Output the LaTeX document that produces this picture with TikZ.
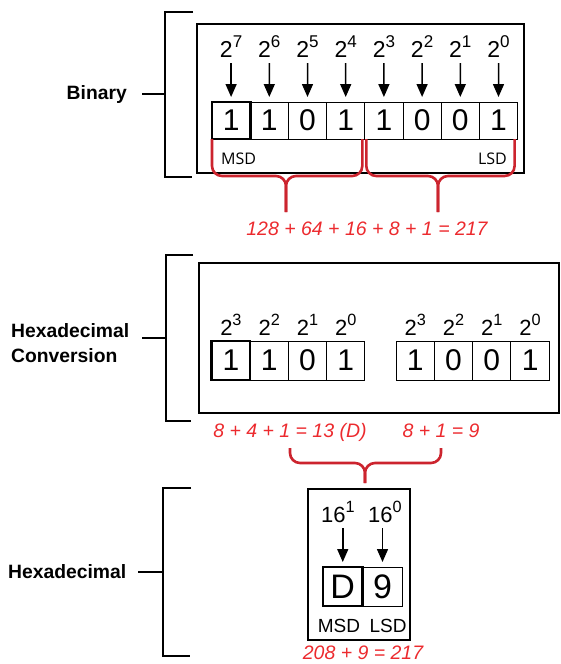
\documentclass[tikz,border=0pt]{standalone}
\usepackage{fontspec}
\setmainfont{Liberation Sans}
\newfontfamily\msdfont{Open Sans}
\usetikzlibrary{arrows.meta,positioning}
\definecolor{bracered}{RGB}{204,36,46}
\definecolor{sumred}{RGB}{236,42,46}
\newcommand{\pwr}[2]{#1\raisebox{.42em}{\scalebox{.74}{#2}}}

\begin{document}
\begin{tikzpicture}[
    x=1pt, y=-1pt,
    frame/.style={draw, line width=1.3pt},
    cell/.style={draw, line width=1pt, minimum width=38.2pt, minimum height=37pt, inner sep=0pt, outer sep=0pt, font=\fontsize{30}{30}\selectfont},
    msd/.style={cell, line width=2.8pt},
    expo/.style={anchor=base, inner sep=0pt, font=\fontsize{23}{23}\selectfont},
    tag/.style={inner sep=0pt, align=left, font=\fontsize{19.3}{25}\selectfont\bfseries},
    bracket/.style={draw, line width=2.2pt},
    brace/.style={draw=bracered, line width=2.6pt, rounded corners=10pt},
    sum/.style={anchor=base, inner sep=0pt, text=sumred, font=\fontsize{19.5}{19.5}\selectfont\itshape},
    line/.style={-{Triangle[width=11pt,length=13pt]}, line width=1.5pt, shorten <=6pt, shorten >=5pt}
]
\useasboundingbox (0,0) rectangle (560,664);

% Binary
\node[tag, anchor=base east] (binlbl) at (127,99.5) {Binary};
\coordinate (bintick) at (142,94);
\coordinate (binmid) at (165,94);
\draw[bracket] (193,12) -| (binmid) |- (192,177);
\draw[bracket] (bintick) -- (binmid);
\draw[frame] (197,24) rectangle (524,173);

\node[msd] (b7) at (231.1,120.5) {1};
\node[cell, right=0pt of b7] (b6) {1};
\node[cell, right=0pt of b6] (b5) {0};
\node[cell, right=0pt of b5] (b4) {1};
\node[cell, right=0pt of b4] (b3) {1};
\node[cell, right=0pt of b3] (b2) {0};
\node[cell, right=0pt of b2] (b1) {0};
\node[cell, right=0pt of b1] (b0) {1};

\node[expo] (e7) at (231.1,57) {\pwr{2}{7}};
\node[expo] (e6) at (269.3,57) {\pwr{2}{6}};
\node[expo] (e5) at (307.5,57) {\pwr{2}{5}};
\node[expo] (e4) at (345.7,57) {\pwr{2}{4}};
\node[expo] (e3) at (383.9,57) {\pwr{2}{3}};
\node[expo] (e2) at (422.1,57) {\pwr{2}{2}};
\node[expo] (e1) at (460.3,57) {\pwr{2}{1}};
\node[expo] (e0) at (498.5,57) {\pwr{2}{0}};

\draw[line] (e7.south) -- (b7.north);
\draw[line] (e6.south) -- (b6.north);
\draw[line] (e5.south) -- (b5.north);
\draw[line] (e4.south) -- (b4.north);
\draw[line] (e3.south) -- (b3.north);
\draw[line] (e2.south) -- (b2.north);
\draw[line] (e1.south) -- (b1.north);
\draw[line] (e0.south) -- (b0.north);

\node[anchor=base west, inner sep=0pt, font=\msdfont\fontsize{16}{16}\selectfont] (binmsd) at (221,164) {MSD};
\node[anchor=base east, inner sep=0pt, font=\msdfont\fontsize{16}{16}\selectfont] (binlsd) at (507,164) {LSD};

\coordinate (cuspL) at (286,176);
\coordinate (tipL) at (286,212);
\coordinate (cuspR) at (438,176);
\coordinate (tipR) at (438,212);
\draw[brace] (b7.south west) |- (cuspL) -- (tipL);
\draw[brace] ([xshift=-2.5pt]b4.south east) |- (cuspL) -- (tipL);
\draw[brace] ([xshift=1.5pt]b3.south west) |- (cuspR) -- (tipR);
\draw[brace] ([xshift=-3pt]b0.south east) |- (cuspR) -- (tipR);

\node[sum] (binsum) at (367,235) {128 + 64 + 16 + 8 + 1 = 217};

% Hexadecimal conversion
\node[tag, anchor=north west] (convlbl) at (11,323) {Hexadecimal\\Conversion};
\coordinate (convtick) at (142,338);
\coordinate (convmid) at (166,338);
\draw[bracket] (193,255) -| (convmid) |- (191,421);
\draw[bracket] (convtick) -- (convmid);
\draw[frame] (199,263) rectangle (559,413);

\node[msd, minimum width=38.3pt, minimum height=39pt] (c7) at (230.9,360.5) {1};
\node[cell, minimum width=38.3pt, minimum height=39pt, right=0pt of c7] (c6) {1};
\node[cell, minimum width=38.3pt, minimum height=39pt, right=0pt of c6] (c5) {0};
\node[cell, minimum width=38.3pt, minimum height=39pt, right=0pt of c5] (c4) {1};
\node[cell, minimum width=38.3pt, minimum height=39pt] (c3) at (415.2,360.5) {1};
\node[cell, minimum width=38.3pt, minimum height=39pt, right=0pt of c3] (c2) {0};
\node[cell, minimum width=38.3pt, minimum height=39pt, right=0pt of c2] (c1) {0};
\node[cell, minimum width=38.3pt, minimum height=39pt, right=0pt of c1] (c0) {1};

\node[expo, font=\fontsize{22}{22}\selectfont] at (c7 |- 0,335) {\pwr{2}{3}};
\node[expo, font=\fontsize{22}{22}\selectfont] at (c6 |- 0,335) {\pwr{2}{2}};
\node[expo, font=\fontsize{22}{22}\selectfont] at (c5 |- 0,335) {\pwr{2}{1}};
\node[expo, font=\fontsize{22}{22}\selectfont] at (c4 |- 0,335) {\pwr{2}{0}};
\node[expo, font=\fontsize{22}{22}\selectfont] at (c3 |- 0,335) {\pwr{2}{3}};
\node[expo, font=\fontsize{22}{22}\selectfont] at (c2 |- 0,335) {\pwr{2}{2}};
\node[expo, font=\fontsize{22}{22}\selectfont] at (c1 |- 0,335) {\pwr{2}{1}};
\node[expo, font=\fontsize{22}{22}\selectfont] at (c0 |- 0,335) {\pwr{2}{0}};

\node[sum] (sumD) at (290,437) {8 + 4 + 1 = 13 (D)};
\node[sum] (sum9) at (441,437) {8 + 1 = 9};

\coordinate (cuspH) at (365,463);
\coordinate (tipH) at (365,483);
\draw[brace] ([yshift=-11pt]sumD.base) |- (cuspH) -- (tipH);
\draw[brace] ([yshift=-11pt]sum9.base) |- (cuspH) -- (tipH);

% Hexadecimal
\node[tag, anchor=base west] (hexlbl) at (8,578.5) {Hexadecimal};
\coordinate (hextick) at (138,572);
\coordinate (hexmid) at (163,572);
\draw[bracket] (191,488) -| (hexmid) |- (190,656);
\draw[bracket] (hextick) -- (hexmid);
\draw[frame] (308,489) rectangle (410,640);

\node[msd, minimum width=39.5pt, minimum height=39pt, font=\fontsize{34}{34}\selectfont] (hd) at (342.75,586.5) {D};
\node[cell, minimum width=40pt, minimum height=39pt, font=\fontsize{34}{34}\selectfont, right=0pt of hd] (h9) {9};

\node[expo, font=\fontsize{22}{22}\selectfont] (p1) at (338,522) {\pwr{16}{1}};
\node[expo, font=\fontsize{22}{22}\selectfont] (p0) at (385,522) {\pwr{16}{0}};
\draw[line] (p1.south -| hd.north) -- (hd.north);
\draw[line] (p0.south -| h9.north) -- (h9.north);

\node[anchor=base, inner sep=0pt, font=\fontsize{19}{19}\selectfont] (hexmsd) at (339,632) {MSD};
\node[anchor=base, inner sep=0pt, font=\fontsize{19}{19}\selectfont] (hexlsd) at (388,632) {LSD};

\node[sum] (hexsum) at (363,659.5) {208 + 9 = 217};
\end{tikzpicture}
\end{document}
